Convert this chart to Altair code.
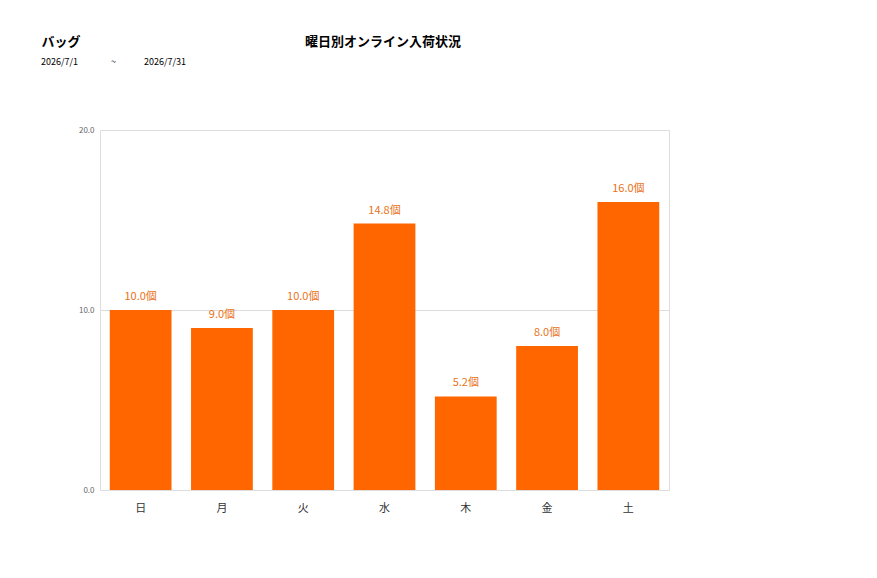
import altair as alt
import pandas as pd

days = ["日", "月", "火", "水", "木", "金", "土"]
values = [10.0, 9.0, 10.0, 14.8, 5.2, 8.0, 16.0]

df = pd.DataFrame({"day": days, "v": values})
FONT = "Noto Sans CJK JP"

base = alt.Chart(df)

bars = base.mark_bar(color="#FF6600").encode(
    x=alt.X("day:N", sort=days, title=None,
            scale=alt.Scale(paddingInner=0.24, paddingOuter=0.12),
            axis=alt.Axis(labelAngle=0, ticks=False, domain=False, labelFontSize=11,
                          labelColor="#333333", labelPadding=12, labelFont=FONT)),
    y=alt.Y("v:Q", title=None, scale=alt.Scale(domain=[0, 20]),
            axis=alt.Axis(values=[0, 10, 20], format=".1f", ticks=False, domain=False,
                          labelFontSize=8, labelColor="#666666", gridColor="#dddddd",
                          labelPadding=6, labelFont=FONT)),
)

labels = base.transform_calculate(
    lab="format(datum.v, '.1f') + '個'"
).mark_text(dy=-13, fontSize=11, color="#E8731A", font=FONT).encode(
    x=alt.X("day:N", sort=days),
    y="v:Q",
    text="lab:N",
)

hdr = pd.DataFrame({"a": [1]})
h = alt.Chart(hdr)
t1 = h.mark_text(text="バッグ", fontSize=13, fontWeight="bold", font=FONT, color="#000").encode(
    x=alt.value(-39), y=alt.value(-88))
t2 = h.mark_text(text="曜日別オンライン入荷状況", fontSize=13, fontWeight="bold", font=FONT, color="#000").encode(
    x=alt.value(283), y=alt.value(-88))
t3 = h.mark_text(text="2026/7/1", fontSize=9, align="left", font=FONT, color="#000").encode(
    x=alt.value(-59), y=alt.value(-68))
t4 = h.mark_text(text="~", fontSize=9, align="left", font=FONT, color="#000").encode(
    x=alt.value(11), y=alt.value(-68))
t5 = h.mark_text(text="2026/7/31", fontSize=9, align="left", font=FONT, color="#000").encode(
    x=alt.value(44), y=alt.value(-68))

chart = alt.layer(bars, labels, t1, t2, t3, t4, t5).properties(
    width=569, height=360,
    autosize=alt.AutoSizeParams(type="none"),
    padding={"left": 92, "top": 122, "right": 200, "bottom": 70},
).configure_view(stroke="#dddddd").configure(background="white")

chart.save("out.html", embed_options={"renderer": "svg", "actions": False})
